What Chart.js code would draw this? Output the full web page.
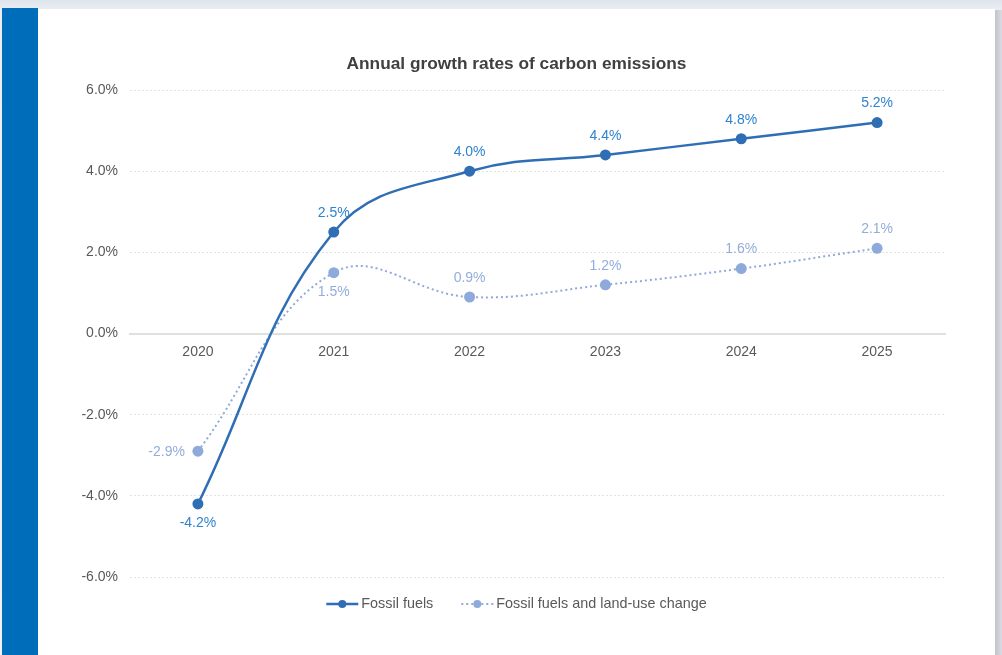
<!DOCTYPE html>
<html>
<head>
<meta charset="utf-8">
<title>Annual growth rates of carbon emissions</title>
<script src="https://cdn.jsdelivr.net/npm/chart.js@4.4.1/dist/chart.umd.min.js"></script>
<style>
  html, body { margin: 0; padding: 0; }
  body {
    width: 1002px; height: 655px; overflow: hidden; position: relative;
    background: linear-gradient(#dde4ec, #eaeef3 9px, #eef1f5);
  }
  .accent { position: absolute; left: 2px; top: 8px; width: 36px; height: 647px; background: #006dba; }
  .edge { position: absolute; left: 995px; top: 10px; width: 7px; height: 645px;
          background: linear-gradient(90deg, #bfc4cb, #d9dde2); }
  .panel { position: absolute; left: 38px; top: 9px; width: 957px; height: 646px; background: #fff; }
  canvas { display: block; }
</style>
</head>
<body>
<div class="accent"></div>
<div class="edge"></div>
<div class="panel"><canvas id="growthChart" width="957" height="646"></canvas></div>
<script>
// yearly growth rates, in percent
const years = ['2020', '2021', '2022', '2023', '2024', '2025'];
const fossilFuels = [-4.2, 2.5, 4.0, 4.4, 4.8, 5.2];
const withLandUse = [-2.9, 1.5, 0.9, 1.2, 1.6, 2.1];
const yTicks = [-6, -4, -2, 0, 2, 4, 6];

Chart.defaults.font.family = "'Liberation Sans', Arial, sans-serif";
Chart.defaults.color = '#595959';

const pct = v => v.toFixed(1) + '%';

// value labels next to each point
const pointLabels = {
    id: 'pointLabels',
    afterDatasetsDraw(chart, args, opts) {
        const { ctx } = chart;
        ctx.save();
        ctx.font = opts.font;
        chart.data.datasets.forEach((ds, i) => {
            const meta = chart.getDatasetMeta(i);
            ctx.fillStyle = ds.labelColor;
            meta.data.forEach((pt, j) => {
                const side = ds.labelSide[j];
                const text = pct(ds.data[j]);
                if (side === 'left') {
                    ctx.textAlign = 'right';
                    ctx.textBaseline = 'middle';
                    ctx.fillText(text, pt.x - 13, pt.y + 1);
                } else {
                    ctx.textAlign = 'center';
                    ctx.textBaseline = 'middle';
                    ctx.fillText(text, pt.x, side === 'below' ? pt.y + 19 : pt.y - 19);
                }
            });
        });
        ctx.restore();
    }
};

// single row legend under the plot: line sample with a dot, then the label
const legendRow = {
    id: 'legendRow',
    afterDraw(chart, args, opts) {
        const { ctx } = chart;
        ctx.save();
        ctx.font = opts.font;
        const items = chart.data.datasets.map(ds => ({ ds, w: ctx.measureText(ds.label).width }));
        const total = items.reduce((s, it) => s + opts.sample + opts.textGap + it.w, 0)
            + opts.itemGap * (items.length - 1);
        let x = (chart.width - total) / 2;
        const y = chart.chartArea.bottom + opts.offset;
        items.forEach(({ ds, w }) => {
            ctx.strokeStyle = ds.borderColor;
            ctx.lineWidth = ds.borderWidth;
            ctx.setLineDash(ds.borderDash || []);
            ctx.beginPath();
            ctx.moveTo(x, y);
            ctx.lineTo(x + opts.sample, y);
            ctx.stroke();
            ctx.setLineDash([]);
            ctx.fillStyle = ds.pointBackgroundColor;
            ctx.beginPath();
            ctx.arc(x + opts.sample / 2, y, 4, 0, Math.PI * 2);
            ctx.fill();
            ctx.fillStyle = '#595959';
            ctx.textAlign = 'left';
            ctx.textBaseline = 'middle';
            ctx.fillText(ds.label, x + opts.sample + opts.textGap, y);
            x += opts.sample + opts.textGap + w + opts.itemGap;
        });
        ctx.restore();
    }
};

const ctx = document.getElementById('growthChart').getContext('2d');

new Chart(ctx, {
    type: 'line',
    data: {
        labels: years,
        datasets: [
            {
                label: 'Fossil fuels',
                data: fossilFuels,
                borderColor: '#2f6eb5',
                backgroundColor: '#2f6eb5',
                pointBackgroundColor: '#2f6eb5',
                borderWidth: 2.5,
                pointRadius: 5.5,
                pointBorderWidth: 0,
                tension: 0.4,
                labelColor: '#2f83cf',
                labelSide: ['below', 'above', 'above', 'above', 'above', 'above'],
            },
            {
                label: 'Fossil fuels and land-use change',
                data: withLandUse,
                borderColor: '#8eaadb',
                backgroundColor: '#8eaadb',
                pointBackgroundColor: '#8eaadb',
                borderWidth: 2,
                borderDash: [2, 3],
                pointRadius: 5.5,
                pointBorderWidth: 0,
                tension: 0.4,
                labelColor: '#93addc',
                labelSide: ['left', 'below', 'above', 'above', 'above', 'above'],
            },
        ],
    },
    options: {
        responsive: false,
        animation: false,
        layout: { padding: { left: 0, right: 0, top: 0, bottom: 78 } },
        plugins: {
            legend: { display: false },
            tooltip: { enabled: false },
            title: {
                display: true,
                text: 'Annual growth rates of carbon emissions',
                color: '#404040',
                font: { size: 17.3, weight: 'bold' },
                padding: { top: 45, bottom: 15.3 },
            },
            pointLabels: { font: "14px 'Liberation Sans', Arial, sans-serif" },
            legendRow: {
                font: "14.4px 'Liberation Sans', Arial, sans-serif",
                sample: 32, textGap: 3, itemGap: 28, offset: 27,
            },
        },
        scales: {
            x: {
                type: 'category',
                position: { y: 0 },
                offset: true,
                afterFit: s => { s.height = 0; },
                grid: { display: false, drawTicks: false },
                border: { display: true, color: '#e0e0e0', width: 2 },
                ticks: { padding: 10, font: { size: 14 }, maxRotation: 0 },
            },
            y: {
                min: -6,
                max: 6,
                afterFit: s => { s.width = 92; },
                afterBuildTicks: s => { s.ticks = yTicks.map(v => ({ value: v })); },
                grid: { color: '#e3e3e3', lineWidth: 1, drawTicks: false },
                border: { display: false, dash: [2, 2] },
                ticks: { padding: 12, font: { size: 14 }, callback: v => pct(v) },
            },
            // blank right-hand margin so the title stays centred on the panel
            yRight: {
                position: 'right',
                min: -6,
                max: 6,
                afterFit: s => { s.width = 50; },
                grid: { display: false, drawTicks: false },
                border: { display: false },
                ticks: { display: false },
            },
        },
    },
    plugins: [pointLabels, legendRow],
});
</script>
</body>
</html>
